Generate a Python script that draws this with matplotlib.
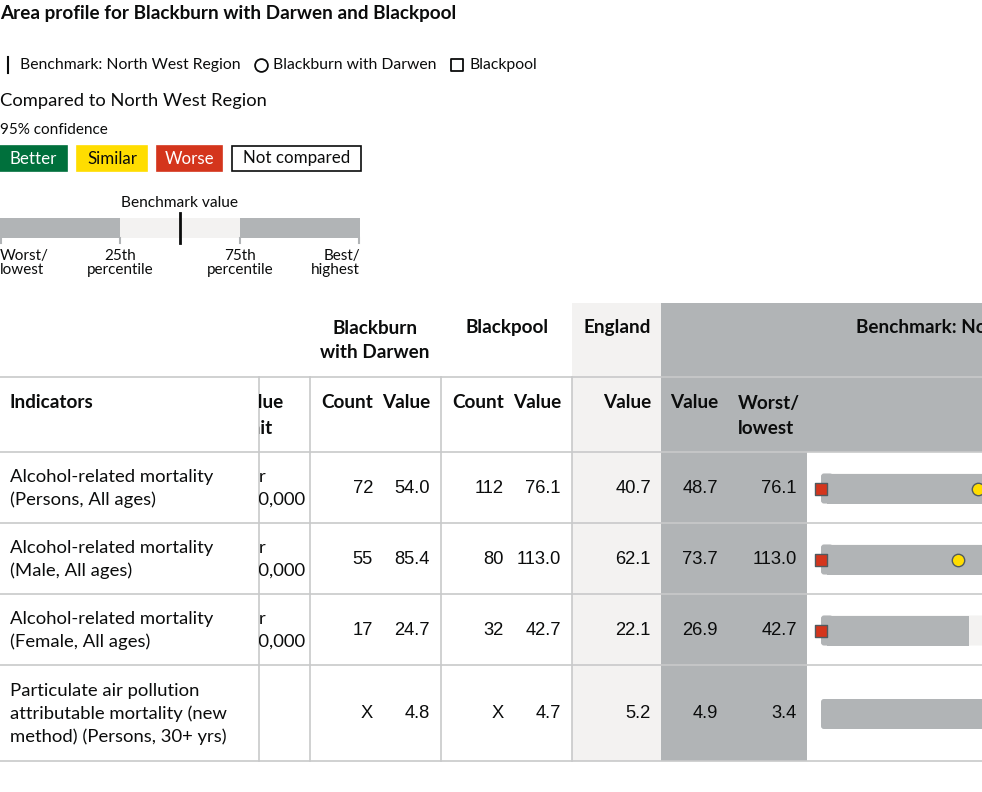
import matplotlib
matplotlib.use("Agg")
import matplotlib.pyplot as plt
from matplotlib.patches import Rectangle, FancyBboxPatch
from matplotlib.transforms import Bbox, TransformedBbox

TXT = "Lato"
NUM = "Liberation Sans"

# ---- data ----
indicators = [
    "Alcohol-related mortality\n(Persons, All ages)",
    "Alcohol-related mortality\n(Male, All ages)",
    "Alcohol-related mortality\n(Female, All ages)",
    "Particulate air pollution\nattributable mortality (new\nmethod) (Persons, 30+ yrs)",
]
value_unit = ["Per\n100,000", "Per\n100,000", "Per\n100,000", ""]
bwd_count = ["72", "55", "17", "X"]
bwd_value = [54.0, 85.4, 24.7, 4.8]
bpl_count = ["112", "80", "32", "X"]
bpl_value = [76.1, 113.0, 42.7, 4.7]
england_value = [40.7, 62.1, 22.1, 5.2]
bench_value = [48.7, 73.7, 26.9, 4.9]
worst_value = [76.1, 113.0, 42.7, 3.4]
pct25_value = [52.0, 78.0, 30.7, 4.7]
bwd_rag = ["similar", "similar", "worse", "none"]
bpl_rag = ["worse", "worse", "worse", "none"]

rag_colors = {"better": "#00703c", "similar": "#ffdd00", "worse": "#d4351c", "none": "#ffffff"}
GREY = "#b1b4b6"
LIGHT = "#f3f2f1"
LINE = "#c8c9ca"
INK = "#0b0c0c"

fig = plt.figure(figsize=(9.82, 7.92), dpi=100)
ax = fig.add_axes([0, 0, 1, 1])
ax.set_xlim(0, 982)
ax.set_ylim(792, 0)
ax.axis("off")

def t(x, y, s, size=13, ha="left", va="center", weight="normal", family=TXT, **kw):
    return ax.text(x, y, s, fontsize=size, ha=ha, va=va, fontweight=weight,
                   family=family, color=kw.pop("color", INK), **kw)

# ---- title & key ----
t(0, 13, "Area profile for Blackburn with Darwen and Blackpool", size=13.6, weight="bold")
ax.plot([8, 8], [57, 73], color=INK, lw=1.5)
t(20, 65, "Benchmark: North West Region", size=11.3)
ax.scatter([261], [65], s=85, facecolor="white", edgecolor=INK, lw=1.3, zorder=3)
t(273, 65, "Blackburn with Darwen", size=11.3)
ax.scatter([457], [65], s=80, marker="s", facecolor="white", edgecolor=INK, lw=1.3, zorder=3)
t(470, 65, "Blackpool", size=11.3)
t(0, 101, "Compared to North West Region", size=13.2)
t(0, 130, "95% confidence", size=11)

badges = [("Better", 0, 67, "better"), ("Similar", 77, 147, "similar"),
          ("Worse", 157, 222, "worse"), ("Not compared", 232, 361, "none")]
for label, x0, x1, key in badges:
    ax.add_patch(Rectangle((x0, 146), x1 - x0, 25, facecolor=rag_colors[key],
                           edgecolor=INK if key == "none" else rag_colors[key], lw=1.2))
    col = "white" if key in ("better", "worse") else INK
    t((x0 + x1) / 2, 158.5, label, size=12.2, ha="center", color=col)

# legend spine
ax.add_patch(Rectangle((0, 218), 120, 20, facecolor=GREY, lw=0))
ax.add_patch(Rectangle((120, 218), 120, 20, facecolor=LIGHT, lw=0))
ax.add_patch(Rectangle((240, 218), 120, 20, facecolor=GREY, lw=0))
ax.plot([180, 180], [213, 243], color=INK, lw=2)
for xt in [1, 120, 240, 359]:
    ax.plot([xt, xt], [238, 243], color=GREY, lw=1.5)
t(180, 203, "Benchmark value", size=11.2, ha="center")
t(0, 263, "Worst/\nlowest", size=11, linespacing=0.95)
t(120, 263, "25th\npercentile", size=11, ha="center", linespacing=0.95, multialignment="center")
t(240, 263, "75th\npercentile", size=11, ha="center", linespacing=0.95, multialignment="center")
t(360, 263, "Best/\nhighest", size=11, ha="right", linespacing=0.95, multialignment="right")

# ---- table layout ----
top, h1, h2 = 303, 377, 452
row_edges = [452, 523, 594, 665, 761]
x_unit, x_bwd, x_bpl, x_eng, x_bench, x_spine = 259, 310, 441, 572, 661, 807

# backgrounds
ax.add_patch(Rectangle((x_eng, top), x_bench - x_eng, row_edges[-1] - top, facecolor=LIGHT, lw=0))
ax.add_patch(Rectangle((x_bench, top), x_spine - x_bench, row_edges[-1] - top, facecolor=GREY, lw=0))
ax.add_patch(Rectangle((x_spine, top), 982 - x_spine, h2 - top, facecolor=GREY, lw=0))

# grid lines
for y in [h1] + row_edges:
    ax.plot([0, 982], [y, y], color=LINE, lw=1.2, zorder=2)
for x in [x_unit, x_bwd, x_bpl, x_eng]:
    ax.plot([x, x], [h1, row_edges[-1]], color=LINE, lw=1.2, zorder=2)

# header texts
HS = 13.6
t(375, 328, "Blackburn", size=HS, ha="center", weight="bold")
t(375, 353, "with Darwen", size=HS, ha="center", weight="bold")
t(507, 328, "Blackpool", size=HS, ha="center", weight="bold")
t(651, 328, "England", size=HS, ha="right", weight="bold")
t(856, 328, "Benchmark: North West Region", size=HS, weight="bold")
t(10, 403, "Indicators", size=HS, weight="bold")
for xr in [x_bwd, x_bpl]:
    t(xr + 63, 403, "Count", size=HS, ha="right", weight="bold")
    t(xr + 120, 403, "Value", size=HS, ha="right", weight="bold")
t(651, 403, "Value", size=HS, ha="right", weight="bold")
t(718, 403, "Value", size=HS, ha="right", weight="bold")
t(738, 403, "Worst/", size=HS, weight="bold")
t(738, 428, "lowest", size=HS, weight="bold")

# value-unit column is scrolled: its text is cut at the left cell border
unit_box = TransformedBbox(Bbox([[x_unit, 0], [x_bwd, 792]]), ax.transData)

def clip_unit(tx):
    tx.set_clip_path(None)
    tx.set_clip_box(unit_box)
    tx.set_clip_on(True)

clip_unit(t(235, 403, "Value", size=HS, weight="bold"))
clip_unit(t(239, 428, "unit", size=HS, weight="bold"))

# spine scale: worst at left edge, benchmark at centre
spine_x0, spine_w = 821, 390

def spine_pos(v, i):
    frac = (worst_value[i] - v) / (worst_value[i] - bench_value[i]) * 0.5
    return spine_x0 + frac * spine_w

NS = 13.2
for i in range(len(indicators)):
    y0, y1 = row_edges[i], row_edges[i + 1]
    yc = (y0 + y1) / 2 + 1
    t(10, yc, indicators[i], size=13.3, linespacing=1.5)
    if value_unit[i]:
        clip_unit(t(238, yc, value_unit[i], size=13.3, linespacing=1.5))
    t(x_bwd + 63, yc, bwd_count[i], size=NS, ha="right", family=NUM)
    t(x_bwd + 120, yc, f"{bwd_value[i]:.1f}", size=NS, ha="right", family=NUM)
    t(x_bpl + 63, yc, bpl_count[i], size=NS, ha="right", family=NUM)
    t(x_bpl + 120, yc, f"{bpl_value[i]:.1f}", size=NS, ha="right", family=NUM)
    t(651, yc, f"{england_value[i]:.1f}", size=NS, ha="right", family=NUM)
    t(718, yc, f"{bench_value[i]:.1f}", size=NS, ha="right", family=NUM)
    t(797, yc, f"{worst_value[i]:.1f}", size=NS, ha="right", family=NUM)

    # spine bar: worst -> 25th grey, 25th -> benchmark light
    p25 = spine_pos(pct25_value[i], i)
    ax.add_patch(FancyBboxPatch((spine_x0, yc - 15), spine_w / 2, 30,
                                boxstyle="round,pad=0,rounding_size=3",
                                facecolor=LIGHT, lw=0, zorder=2))
    ax.add_patch(FancyBboxPatch((spine_x0, yc - 15), 12, 30,
                                boxstyle="round,pad=0,rounding_size=3",
                                facecolor=GREY, lw=0, zorder=2))
    ax.add_patch(Rectangle((spine_x0 + 6, yc - 15), p25 - spine_x0 - 6, 30,
                           facecolor=GREY, lw=0, zorder=2))
    if bwd_rag[i] != "none":
        ax.scatter([spine_pos(bwd_value[i], i)], [yc], s=80, marker="o",
                   facecolor=rag_colors[bwd_rag[i]], edgecolor="#505a5f", lw=1, zorder=4)
    if bpl_rag[i] != "none":
        ax.scatter([spine_pos(bpl_value[i], i)], [yc], s=75, marker="s",
                   facecolor=rag_colors[bpl_rag[i]], edgecolor="#505a5f", lw=1, zorder=4)

fig.savefig("out.png", dpi=100)
